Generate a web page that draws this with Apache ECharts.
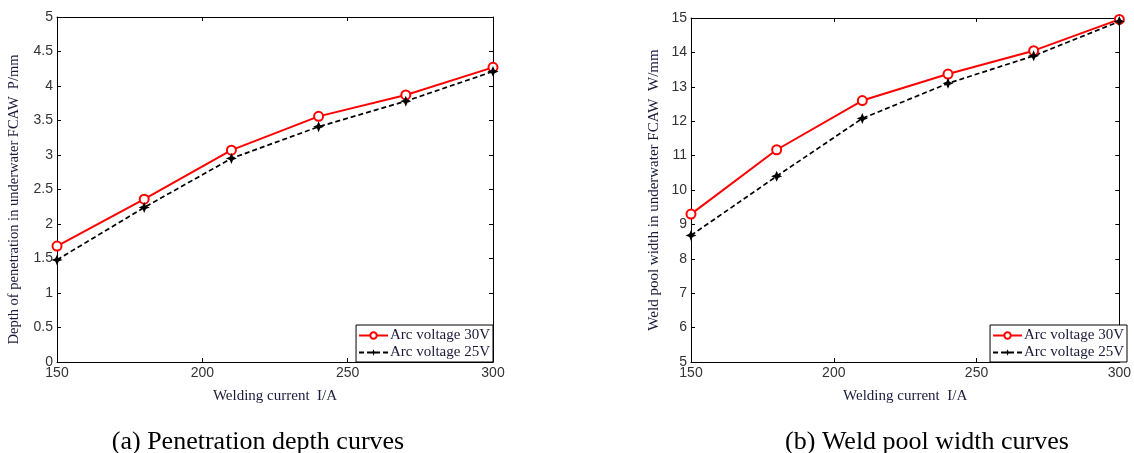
<!DOCTYPE html>
<html>
<head>
<meta charset="utf-8">
<script src="https://cdn.jsdelivr.net/npm/echarts@6/dist/echarts.min.js"></script>
<style>
  html, body { margin: 0; padding: 0; background: #fff; }
  #chart { width: 1134px; height: 453px; }
</style>
</head>
<body>
<div id="chart"></div>
<script>
// welding current (A)
const current = [150, 180, 210, 240, 270, 300]
// (a) penetration depth P/mm
const depth30V = [1.68, 2.36, 3.07, 3.56, 3.87, 4.27]
const depth25V = [1.48, 2.24, 2.95, 3.41, 3.78, 4.21]
// (b) weld pool width W/mm
const width30V = [9.3, 11.17, 12.6, 13.37, 14.05, 14.96]
const width25V = [8.68, 10.4, 12.08, 13.1, 13.9, 14.9]

const seriesNames = ['Arc voltage 30V', 'Arc voltage 25V']
const captions = ['(a) Penetration depth curves', '(b) Weld pool width curves']

const serif = '"Liberation Serif", "Times New Roman", serif'
const sans = '"Liberation Sans", Arial, sans-serif'
const starPath = 'path://M0,-10 L3,-3 L10,0 L3,3 L0,10 L-3,3 L-10,0 L-3,-3 Z'

const pairs = (xs, ys) => xs.map((x, i) => [x, ys[i]])

function xAxes(gridIndex, name) {
  const base = {
    gridIndex: gridIndex,
    type: 'value',
    min: 150,
    max: 300,
    interval: 50,
    splitLine: { show: false },
    axisLine: { onZero: false, lineStyle: { color: '#000', width: 1 } },
    axisTick: { inside: true, length: 4, lineStyle: { color: '#000' } }
  }
  return [
    Object.assign({}, base, {
      position: 'bottom',
      name: name,
      nameLocation: 'middle',
      nameGap: 27,
      nameTextStyle: { fontFamily: serif, fontSize: 15, color: '#1a1a3a' },
      axisLabel: { fontFamily: sans, fontSize: 14, color: '#333', margin: 4 }
    }),
    Object.assign({}, base, { position: 'top', axisLabel: { show: false } })
  ]
}

function yAxes(gridIndex, min, max, interval, name, gap, size, shift) {
  const base = {
    gridIndex: gridIndex,
    type: 'value',
    min: min,
    max: max,
    interval: interval,
    splitLine: { show: false },
    axisLine: { onZero: false, lineStyle: { color: '#000', width: 1 } },
    axisTick: { inside: true, length: 4, lineStyle: { color: '#000' } }
  }
  return [
    Object.assign({}, base, {
      position: 'left',
      name: name,
      nameLocation: 'middle',
      nameGap: gap,
      nameTextStyle: { fontFamily: serif, fontSize: size, color: '#1a1a3a', padding: [0, shift, 0, 0] },
      axisLabel: { fontFamily: sans, fontSize: 14, color: '#333', margin: 4 }
    }),
    Object.assign({}, base, { position: 'right', axisLabel: { show: false } })
  ]
}

function lineSeries(name, data, xi, yi, red) {
  return {
    name: name,
    type: 'line',
    xAxisIndex: xi,
    yAxisIndex: yi,
    data: data,
    symbol: red ? 'emptyCircle' : starPath,
    symbolSize: red ? 9 : 11,
    showAllSymbol: true,
    color: red ? '#ff0000' : '#000',
    lineStyle: {
      color: red ? '#ff0000' : '#000',
      width: red ? 2 : 1.7,
      type: red ? 'solid' : [5, 3]
    },
    itemStyle: red
      ? { color: '#ff0000', borderColor: '#ff0000', borderWidth: 1.6 }
      : { color: '#000', borderWidth: 0 },
    animation: false
  }
}

function legendAt(right, seriesPrefix) {
  return {
    right: right,
    top: 325,
    orient: 'vertical',
    padding: [2, 3, 1, 2],
    itemGap: 0,
    itemWidth: 29,
    itemHeight: 8,
    backgroundColor: '#fff',
    borderColor: '#000',
    borderWidth: 1,
    borderRadius: 0,
    textStyle: { fontFamily: serif, fontSize: 15, lineHeight: 17, color: '#1a1a3a', padding: [0, 0, 0, -3] },
    data: seriesNames.map(n => ({ name: seriesPrefix + n })),
    formatter: n => n.replace(seriesPrefix, '')
  }
}

const chart = echarts.init(document.getElementById('chart'))
chart.setOption({
  backgroundColor: '#fff',
  animation: false,
  title: [
    { text: captions[0], left: 253, top: 424, textAlign: 'center',
      textStyle: { fontFamily: serif, fontSize: 26, fontWeight: 'normal', color: '#000' } },
    { text: captions[1], left: 922, top: 424, textAlign: 'center',
      textStyle: { fontFamily: serif, fontSize: 26, fontWeight: 'normal', color: '#000' } }
  ],
  grid: [
    { left: 57, right: 641, top: 17, bottom: 91 },
    { left: 691, right: 7, top: 18, bottom: 91 }
  ],
  legend: [legendAt(641, 'a:'), legendAt(7, 'b:')],
  xAxis: [
    ...xAxes(0, 'Welding current  I/A'),
    ...xAxes(1, 'Welding current  I/A')
  ],
  yAxis: [
    ...yAxes(0, 0, 5, 0.5, 'Depth of penetration in underwater FCAW  P/mm', 35, 14.5, 20),
    ...yAxes(1, 5, 15, 1, 'Weld pool width in underwater FCAW  W/mm', 29, 15, 0)
  ],
  series: [
    lineSeries('a:' + seriesNames[0], pairs(current, depth30V), 0, 0, true),
    lineSeries('a:' + seriesNames[1], pairs(current, depth25V), 0, 0, false),
    lineSeries('b:' + seriesNames[0], pairs(current, width30V), 2, 2, true),
    lineSeries('b:' + seriesNames[1], pairs(current, width25V), 2, 2, false)
  ]
})
</script>
</body>
</html>
